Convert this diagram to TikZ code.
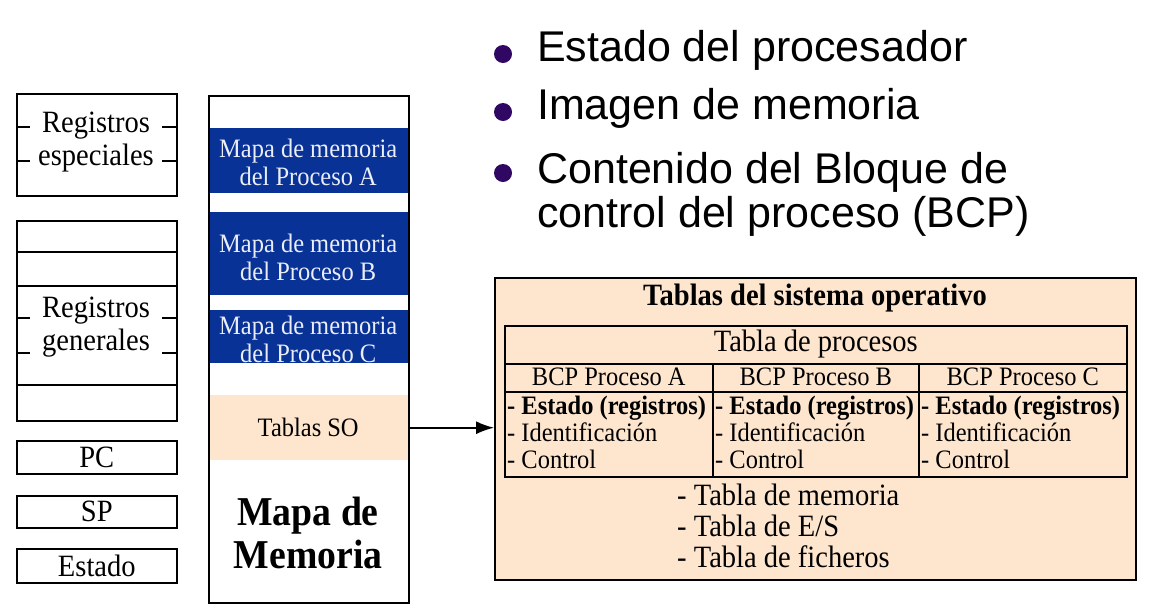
\documentclass[tikz,border=0pt]{standalone}
\usepackage{fontspec}
\setmainfont[FakeStretch=0.92]{Liberation Serif}
\newfontfamily\sansf{Liberation Sans}
\usetikzlibrary{arrows.meta}
\definecolor{procblue}{RGB}{8,50,150}
\definecolor{peach}{RGB}{253,229,206}
\definecolor{bulletpurple}{RGB}{48,8,100}
\definecolor{paletext}{RGB}{235,238,248}
\begin{document}
\begin{tikzpicture}[x=1pt,y=-1pt,
  frame/.style={draw, line width=1.6pt, inner sep=0pt, anchor=north west},
  fillblk/.style={inner sep=0pt, anchor=north west},
  regtxt/.style={font=\fontsize{31}{33}\selectfont, align=center, inner sep=0pt},
  memtxt/.style={font=\fontsize{26.6}{28}\selectfont, align=center, inner sep=0pt},
  celltxt/.style={font=\fontsize{26.6}{26.8}\selectfont, inner sep=0pt},
  bigtxt/.style={font=\fontsize{31}{31}\selectfont, inner sep=0pt},
  bullettxt/.style={font=\sansf\fontsize{43}{43}\selectfont, anchor=west, inner sep=0pt},
  tick/.style={line width=1.6pt}
]
\useasboundingbox (0,0) rectangle (1161,614);

% ---------- register file ----------
\node[frame, minimum width=160pt, minimum height=102pt] (resp) at (16,93) {};
\node[regtxt] at (96,142) {Registros\\especiales};
\foreach \yy in {127,161} {
  \draw[tick] (16,\yy) -- (30,\yy);
  \draw[tick] (162,\yy) -- (176,\yy);
}

\node[frame, minimum width=160pt, minimum height=200pt] (rgen) at (16,220) {};
\draw[tick] (16,252) -- (176,252);
\draw[tick] (16,286) -- (176,286);
\draw[tick] (16,385) -- (176,385);
\node[regtxt] at (96,327) {Registros\\generales};
\foreach \yy in {318,353} {
  \draw[tick] (16,\yy) -- (30,\yy);
  \draw[tick] (162,\yy) -- (176,\yy);
}

\node[frame, minimum width=160pt, minimum height=33pt] (pc) at (16,440) {};
\node[regtxt] at (pc.center) {PC};
\node[frame, minimum width=160pt, minimum height=32pt] (sp) at (16,495) {};
\node[regtxt] at (sp.center) {SP};
\node[frame, minimum width=160pt, minimum height=34pt] (est) at (16,548) {};
\node[regtxt] at (est.center) {Estado};

% ---------- memory map ----------
\node[fillblk, fill=procblue, minimum width=200pt, minimum height=65pt] (ma) at (208,128) {};
\node[memtxt, text=paletext] at ([yshift=-2]ma.center) {Mapa de memoria\\del Proceso A};
\node[fillblk, fill=procblue, minimum width=200pt, minimum height=83pt] (mb) at (208,212) {};
\node[memtxt, text=paletext] at ([yshift=-4]mb.center) {Mapa de memoria\\del Proceso B};
\node[fillblk, fill=procblue, minimum width=200pt, minimum height=53pt] (mc) at (208,310) {};
\node[memtxt, text=paletext] at ([yshift=-3]mc.center) {Mapa de memoria\\del Proceso C};
\node[fillblk, fill=peach, minimum width=200pt, minimum height=65pt] (tso) at (208,395) {};
\node[memtxt] at (tso.center) {Tablas SO};
\node[frame, minimum width=200pt, minimum height=507pt] (mem) at (208,95) {};
\node[font=\bfseries\fontsize{41}{43}\selectfont, align=center, inner sep=0pt] at (308,533) {Mapa de\\Memoria};

% ---------- operating system tables ----------
\node[frame, fill=peach, minimum width=641pt, minimum height=302pt] (sotab) at (494,277) {};
\node[font=\bfseries\fontsize{31}{33}\selectfont, inner sep=0pt] at (815,298) {Tablas del sistema operativo};
\node[frame, minimum width=622pt, minimum height=38pt] (tproc) at (504,325) {};
\node[bigtxt] at ([yshift=1]tproc.center) {Tabla de procesos};

\foreach \x/\w/\n/\l in {504/208/ha/A, 712/206/hb/B, 918/208/hc/C} {
  \node[frame, minimum width=\w pt, minimum height=28pt] (\n) at (\x,363) {};
  \node[celltxt] at ([yshift=1]\n.center) {BCP Proceso \l};
  \node[frame, minimum width=\w pt, minimum height=85pt] (\n c) at (\x,391) {};
  \node[celltxt, anchor=north west, align=left, text depth=0pt] at ([shift={(3,5)}]\n c.north west)
    {\textbf{- Estado (registros)}\\- Identificación\\- Control};
}

\node[bigtxt, anchor=north west, align=left] (lists) at (677,484)
  {- Tabla de memoria\\- Tabla de E/S\\- Tabla de ficheros};

\draw[line width=1.6pt, -{Latex[length=18pt,width=13pt]}] (tso.east) -- (sotab.west |- tso.east);

% ---------- process image contents ----------
\fill[bulletpurple] (503,54) circle (9);
\node[bullettxt] at (537,50) {Estado del procesador};
\fill[bulletpurple] (503,112) circle (9);
\node[bullettxt] at (537,108) {Imagen de memoria};
\fill[bulletpurple] (503,173) circle (9);
\node[bullettxt, align=left, anchor=north west, font=\sansf\fontsize{43}{44}\selectfont] at (537,152)
  {Contenido del Bloque de\\control del proceso (BCP)};
\end{tikzpicture}
\end{document}
